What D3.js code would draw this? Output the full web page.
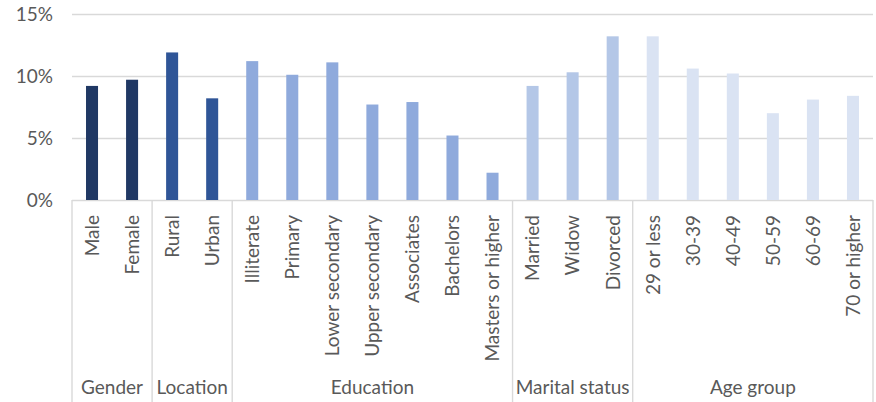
<!DOCTYPE html>
<html>
<head>
<meta charset="utf-8">
<script src="https://cdn.jsdelivr.net/npm/d3@7"></script>
<style>
  body { margin: 0; background: #fff; }
  text { font-family: Lato, "Open Sans", sans-serif; fill: #595959; }
</style>
</head>
<body>
<div id="chart"></div>
<script>
/*
------------------------------
DATA: groups, categories and values (share, %)
------------------------------
*/
const groups = ["Gender", "Location", "Education", "Marital status", "Age group"];
const groupColors = ["#203864", "#2F5597", "#8FAADC", "#B4C7E7", "#DAE3F3"];

const categories = [
    "Male", "Female",
    "Rural", "Urban",
    "Illiterate", "Primary", "Lower secondary", "Upper secondary", "Associates", "Bachelors", "Masters or higher",
    "Married", "Widow", "Divorced",
    "29 or less", "30-39", "40-49", "50-59", "60-69", "70 or higher"
];
const categoryGroup = [
    "Gender", "Gender",
    "Location", "Location",
    "Education", "Education", "Education", "Education", "Education", "Education", "Education",
    "Marital status", "Marital status", "Marital status",
    "Age group", "Age group", "Age group", "Age group", "Age group", "Age group"
];
const values = [
    9.2, 9.7,
    11.9, 8.2,
    11.2, 10.1, 11.1, 7.7, 7.9, 5.2, 2.2,
    9.2, 10.3, 13.2,
    13.2, 10.6, 10.2, 7.0, 8.1, 8.4
];
const yTicks = [0, 5, 10, 15];

/*
------------------------------
SETUP
------------------------------
*/
const W = 876, H = 402;
const margin = { top: 14, right: 3, bottom: 202, left: 72 };
const width = W - margin.left - margin.right;
const height = H - margin.top - margin.bottom;

const svg = d3.select("#chart").append("svg")
    .attr("width", W)
    .attr("height", H);

const g = svg.append("g")
    .attr("transform", "translate(" + margin.left + "," + margin.top + ")");

const x = d3.scaleBand()
    .domain(categories)
    .range([0, width])
    .paddingInner(0.7)
    .paddingOuter(0.35);

const y = d3.scaleLinear()
    .domain([0, 15])
    .range([height, 0]);

const color = d3.scaleOrdinal().domain(groups).range(groupColors);

// gridlines + y labels
const yAxis = g.append("g")
    .call(d3.axisLeft(y).tickValues(yTicks).tickSize(-width).tickFormat(d => d + "%").tickPadding(19));
yAxis.select(".domain").remove();
yAxis.selectAll(".tick line").attr("stroke", "#D9D9D9").attr("stroke-width", 1.4);
yAxis.selectAll(".tick text")
    .attr("font-size", "19px")
    .style("font-family", "Lato, sans-serif")
    .attr("fill", "#595959");

// bars
g.selectAll("rect.bar")
    .data(values)
    .join("rect")
    .attr("class", "bar")
    .attr("x", (d, i) => x(categories[i]))
    .attr("y", d => y(d))
    .attr("width", x.bandwidth())
    .attr("height", d => height - y(d))
    .attr("fill", (d, i) => color(categoryGroup[i]));

// category labels, rotated
g.selectAll("text.cat")
    .data(categories)
    .join("text")
    .attr("class", "cat")
    .attr("transform", d => "translate(" + (x(d) + x.bandwidth() / 2) + "," + (height + 15) + ") rotate(-90)")
    .attr("text-anchor", "end")
    .attr("dy", "0.36em")
    .attr("font-size", "19px")
    .text(d => d);

// group labels
const step = x.step();
let start = 0;
const bounds = [0];
groups.forEach(grp => {
    const n = categoryGroup.filter(c => c === grp).length;
    const x0 = start * step;
    const x1 = (start + n) * step;
    g.append("text")
        .attr("x", (x0 + x1) / 2)
        .attr("y", height + 194)
        .attr("text-anchor", "middle")
        .attr("font-size", "19px")
        .text(grp);
    start += n;
    bounds.push(start);
});

// group separators
g.selectAll("line.sep")
    .data(bounds)
    .join("line")
    .attr("class", "sep")
    .attr("x1", d => d * step)
    .attr("x2", d => d * step)
    .attr("y1", height)
    .attr("y2", H - margin.top)
    .attr("stroke", "#D9D9D9")
    .attr("stroke-width", 1.4);
</script>
</body>
</html>
